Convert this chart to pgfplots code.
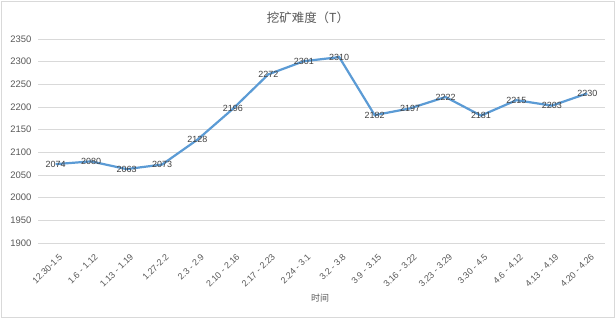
\documentclass[border=0pt]{standalone}
\usepackage{pgfplots}
\pgfplotsset{compat=1.18}
\usepackage{fontspec}
\setmainfont{Liberation Sans}
\newfontfamily\cjk{Noto Sans CJK SC}
\definecolor{lineblue}{RGB}{91,155,213}
\definecolor{gridgray}{RGB}{217,217,217}
\definecolor{txtgray}{RGB}{89,89,89}
\definecolor{lblgray}{RGB}{64,64,64}
\begin{document}
\begin{tikzpicture}
\path[use as bounding box] (0,0) rectangle (616bp,319bp);
\fill[white] (0,0) rectangle (616bp,319bp);
\draw[gridgray, line width=0.8bp] (1.5bp,1.5bp) rectangle (614.5bp,317.5bp);
\begin{axis}[
  at={(38bp,76bp)}, anchor=south west,
  scale only axis, width=567bp, height=204bp,
  xmin=-0.5, xmax=15.5, ymin=1900, ymax=2350,
  ytick={1900,1950,...,2350},
  xtick={0,...,15},
  xticklabels={12.30-1.5, 1.6 - 1.12, 1.13 - 1.19, 1.27-2.2, 2.3 - 2.9, 2.10 - 2.16, 2.17 - 2.23, 2.24 - 3.1, 3.2 - 3.8, 3.9 - 3.15, 3.16 - 3.22, 3.23 - 3.29, 3.30 - 4.5, 4.6 - 4.12, 4.13 - 4.19, 4.20 - 4.26},
  ymajorgrids, grid style={draw=gridgray, line width=0.7bp},
  axis line style={draw=none},
  major tick length=0pt,
  /pgf/number format/assume math mode=true,
  /pgf/number format/1000 sep={},
  yticklabel style={font=\fontsize{9.5}{10}\selectfont, text=txtgray, xshift=-3bp},
  xticklabel style={font=\fontsize{9}{10}\selectfont, text=txtgray, rotate=45, anchor=north east, inner sep=1pt, xshift=-4bp, yshift=-8bp},
  nodes near coords,
  every node near coord/.append style={anchor=center, font=\fontsize{9}{10}\selectfont, text=lblgray, inner sep=0pt},
]
\addplot[lineblue, line width=2.2bp, mark=none] coordinates {
(0,2074) (1,2080) (2,2063) (3,2073) (4,2128) (5,2196) (6,2272) (7,2301)
(8,2310) (9,2182) (10,2197) (11,2222) (12,2181) (13,2215) (14,2203) (15,2230)
};
\end{axis}
\node[text=txtgray, font=\cjk\fontsize{12.5}{14}\selectfont] at (308bp,301bp) {挖矿难度（T）};
\node[text=txtgray, font=\cjk\fontsize{9}{10}\selectfont] at (320bp,21bp) {时间};
\end{tikzpicture}
\end{document}
